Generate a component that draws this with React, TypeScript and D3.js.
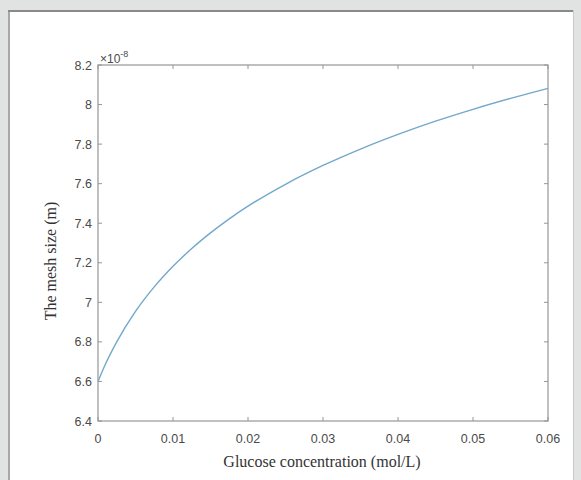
import React from "react";
import * as d3 from "d3";

// glucose concentration (mol/L)
const concentration = [
  0, 0.001, 0.0025, 0.005, 0.0075, 0.01, 0.0125, 0.015, 0.0175, 0.02, 0.025,
  0.03, 0.035, 0.04, 0.045, 0.05, 0.055, 0.06,
];
// mesh size (x 1e-8 m)
const meshSize = [
  6.6, 6.688, 6.8, 6.954, 7.078, 7.182, 7.272, 7.351, 7.422, 7.486, 7.597,
  7.692, 7.775, 7.849, 7.916, 7.976, 8.031, 8.082,
];
const xTicks = [0, 0.01, 0.02, 0.03, 0.04, 0.05, 0.06];
const yTicks = [6.4, 6.6, 6.8, 7, 7.2, 7.4, 7.6, 7.8, 8, 8.2];

const W = 581;
const H = 480;
const plot = { left: 98, top: 65, right: 548, bottom: 421 };
const axisColor = "#969696";
const textColor = "#4a4a4a";
const sans = "Liberation Sans, Arial, sans-serif";
const serif = "Liberation Serif, Times New Roman, serif";

export default function App() {
  const x = d3.scaleLinear().domain([0, 0.06]).range([plot.left, plot.right]);
  const y = d3.scaleLinear().domain([6.4, 8.2]).range([plot.bottom, plot.top]);

  const line = d3
    .line<number>()
    .x((_, i) => x(concentration[i]))
    .y((d) => y(d))
    .curve(d3.curveMonotoneX);

  const tick = 4;

  return (
    <svg
      width={W}
      height={H}
      style={{ position: "absolute", left: 0, top: 0, display: "block" }}
    >
      <rect x={0} y={0} width={W} height={H} fill="#e1e3e3" />
      {/* white panel */}
      <rect x={8} y={10} width={566} height={H} fill="#ffffff" />
      <line x1={8} y1={11} x2={574} y2={11} stroke="#8a8a8a" strokeWidth={2} />
      <line x1={9} y1={10} x2={9} y2={H} stroke="#8a8a8a" strokeWidth={1.5} />
      <line x1={573.5} y1={10} x2={573.5} y2={H} stroke="#c8caca" strokeWidth={1} />

      {/* axes box */}
      <rect
        x={plot.left}
        y={plot.top}
        width={plot.right - plot.left}
        height={plot.bottom - plot.top}
        fill="none"
        stroke={axisColor}
        strokeWidth={1.2}
      />

      {xTicks.map((t) => (
        <g key={"x" + t}>
          <line x1={x(t)} x2={x(t)} y1={plot.bottom} y2={plot.bottom - tick} stroke={axisColor} />
          <line x1={x(t)} x2={x(t)} y1={plot.top} y2={plot.top + tick} stroke={axisColor} />
          <text
            x={x(t)}
            y={plot.bottom + 22}
            textAnchor="middle"
            fontFamily={sans}
            fontSize={12.5}
            fill={textColor}
          >
            {t === 0 ? "0" : String(t)}
          </text>
        </g>
      ))}

      {yTicks.map((t) => (
        <g key={"y" + t}>
          <line x1={plot.left} x2={plot.left + tick} y1={y(t)} y2={y(t)} stroke={axisColor} />
          <line x1={plot.right} x2={plot.right - tick} y1={y(t)} y2={y(t)} stroke={axisColor} />
          <text
            x={plot.left - 6}
            y={y(t) + 4.5}
            textAnchor="end"
            fontFamily={sans}
            fontSize={12.5}
            fill={textColor}
          >
            {d3.format("~g")(t)}
          </text>
        </g>
      ))}

      {/* exponent */}
      <text x={plot.left + 2} y={plot.top - 2} fontFamily={sans} fontSize={12} fill={textColor}>
        ×10
        <tspan dy={-6} fontSize={9}>
          -8
        </tspan>
      </text>

      <path
        d={line(meshSize) ?? ""}
        fill="none"
        stroke="#72a8cb"
        strokeWidth={1.4}
      />

      <text
        x={(plot.left + plot.right) / 2 - 1}
        y={467}
        textAnchor="middle"
        fontFamily={serif}
        fontSize={16}
        fill="#333"
      >
        Glucose concentration (mol/L)
      </text>
      <text
        transform={`translate(${56}, ${261}) rotate(-90)`}
        textAnchor="middle"
        fontFamily={serif}
        fontSize={16}
        fill="#333"
      >
        The mesh size (m)
      </text>
    </svg>
  );
}
